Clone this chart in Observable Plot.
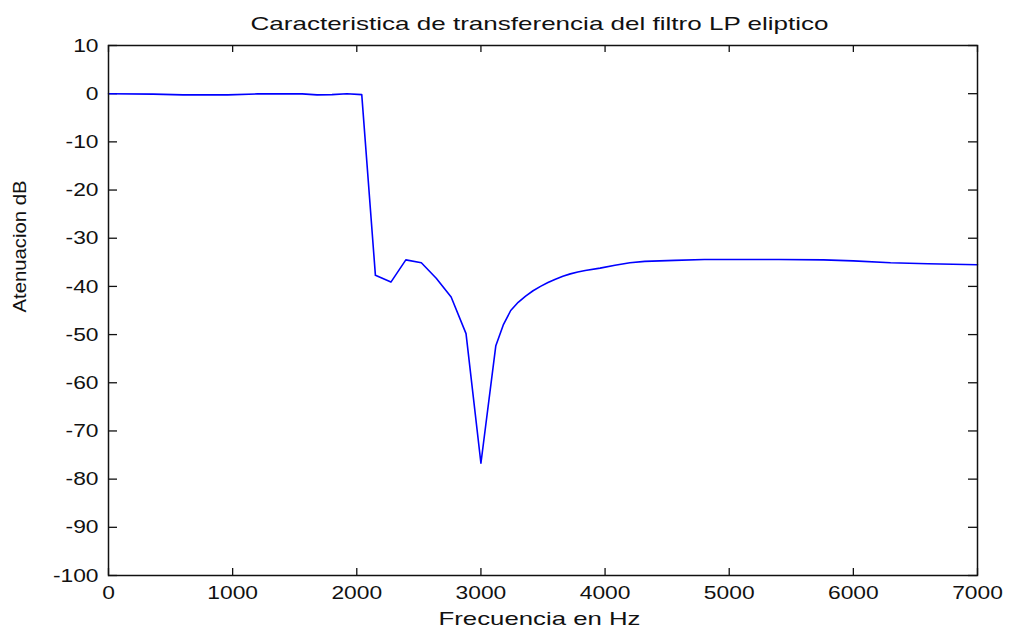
<!DOCTYPE html>
<html>
<head>
<meta charset="utf-8">
<script src="https://cdn.jsdelivr.net/npm/d3@7"></script>
<script src="https://cdn.jsdelivr.net/npm/@observablehq/plot@0.6"></script>
<style>
  html, body { margin: 0; padding: 0; background: #fff; }
  #chart svg { display: block; }
</style>
</head>
<body>
<div id="chart"></div>
<script>
// Elliptic low-pass filter response: frequency (Hz) and attenuation (dB)
const freqHz = [0, 360, 600, 960, 1200, 1560, 1680, 1800, 1920, 2040, 2150, 2275, 2395,
  2520, 2640, 2760, 2880, 3000, 3120, 3180, 3240, 3300, 3360, 3420, 3480, 3540, 3600, 3660,
  3720, 3780, 3840, 3960, 4080, 4200, 4320, 4440, 4560, 4800, 5400, 5760, 6000, 6300, 6600, 7000];
const attenDb = [0, -0.1, -0.25, -0.25, -0.05, -0.05, -0.25, -0.2, 0, -0.2, -37.7, -39.1, -34.5,
  -35.1, -38.3, -42.2, -49.8, -76.7, -52.3, -48.0, -45.0, -43.3, -42.0, -40.9, -40.0, -39.2, -38.5, -37.9,
  -37.4, -37.0, -36.7, -36.2, -35.6, -35.1, -34.8, -34.7, -34.6, -34.4, -34.4, -34.5, -34.7, -35.1, -35.3, -35.5];

const xTicks = [0, 1000, 2000, 3000, 4000, 5000, 6000, 7000];
const yTicks = [10, 0, -10, -20, -30, -40, -50, -60, -70, -80, -90, -100];

const titleText = "Caracteristica de transferencia del filtro LP eliptico";
const xLabel = "Frecuencia en Hz";
const yLabel = "Atenuacion dB";

const data = freqHz.map((f, i) => ({f, db: attenDb[i]}));

const W = 1010, H = 630;
const mTop = 45, mBottom = 55, mLeft = 108, mRight = 33;
const frameW = W - mLeft - mRight, frameH = H - mTop - mBottom;

const chart = Plot.plot({
  width: W,
  height: H,
  marginTop: mTop,
  marginBottom: mBottom,
  marginLeft: mLeft,
  marginRight: mRight,
  style: {fontFamily: "'Liberation Sans', Arial, sans-serif", fontSize: "19px", color: "#111", background: "#fff"},
  x: {domain: [0, 7000]},
  y: {domain: [-100, 10]},
  marks: [
    Plot.axisX(xTicks, {tickSize: 0, tickPadding: 10, tickFormat: d => String(d), label: null, fill: "#111"}),
    Plot.axisY(yTicks, {tickSize: 0, tickPadding: 10, tickFormat: d => String(d), label: null, fill: "#111"}),
    // inward ticks on all four sides of the box
    Plot.tickX(xTicks, {x: d => d, insetTop: frameH - 7, stroke: "#111", strokeWidth: 1.3}),
    Plot.tickX(xTicks, {x: d => d, insetBottom: frameH - 7, stroke: "#111", strokeWidth: 1.3}),
    Plot.tickY(yTicks, {y: d => d, insetRight: frameW - 9, stroke: "#111", strokeWidth: 1.3}),
    Plot.tickY(yTicks, {y: d => d, insetLeft: frameW - 9, stroke: "#111", strokeWidth: 1.3}),
    Plot.line(data, {x: "f", y: "db", stroke: "#0000ff", strokeWidth: 1.6}),
    Plot.frame({stroke: "#111", strokeWidth: 1.5}),
    Plot.text([titleText], {frameAnchor: "top", dx: -3.5, dy: -21.7, lineAnchor: "middle", fill: "#111", className: "ttl"}),
    Plot.text([xLabel], {frameAnchor: "bottom", dx: -3.5, dy: 43.3, lineAnchor: "middle", fill: "#111", className: "xlab"}),
    Plot.text([yLabel], {frameAnchor: "left", dx: -88.5, dy: 2, rotate: -90, lineAnchor: "middle", fill: "#111", className: "ylab"})
  ]
});

document.getElementById("chart").appendChild(chart);

// widen the lettering horizontally, keeping glyph heights
function stretch(el, target) {
  const len = el.getComputedTextLength();
  if (!len) return;
  el.setAttribute("textLength", target(len));
  el.setAttribute("lengthAdjust", "spacingAndGlyphs");
}
chart.querySelectorAll("[aria-label='x-axis tick label'] text, [aria-label='y-axis tick label'] text")
  .forEach(t => stretch(t, len => len * 1.2));
chart.querySelectorAll(".ttl text").forEach(t => stretch(t, () => 578));
chart.querySelectorAll(".xlab text").forEach(t => stretch(t, () => 202));
chart.querySelectorAll(".ylab text").forEach(t => stretch(t, () => 132));
</script>
</body>
</html>
